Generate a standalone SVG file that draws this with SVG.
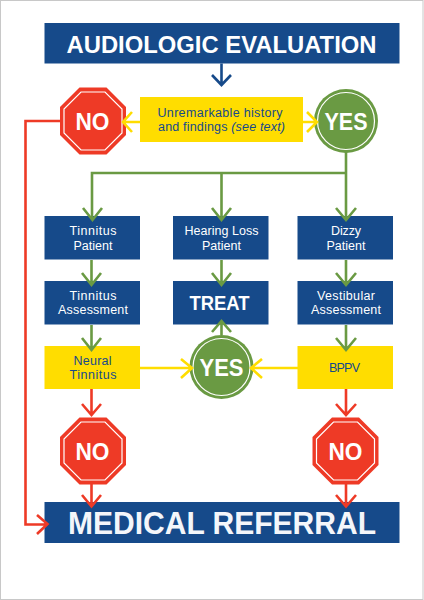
<svg xmlns="http://www.w3.org/2000/svg" width="424" height="600" viewBox="0 0 424 600">
<style>
.blue{fill:#164a8a}
.yel{fill:#ffdd00}
.head{font:bold 24.500px "Liberation Sans",Arial,sans-serif;fill:#fff;text-anchor:middle}
.big{font:bold 32px "Liberation Sans",Arial,sans-serif;fill:#f4f6fa;text-anchor:middle}
.sign{font:bold 23px "Liberation Sans",Arial,sans-serif;fill:#fff;text-anchor:middle}
.w{font:12.500px "Liberation Sans",Arial,sans-serif;fill:#fff;text-anchor:middle}
.d{font:12.500px "Liberation Sans",Arial,sans-serif;fill:#164a8a;text-anchor:middle}
.l{fill:none;stroke-width:2.600}
.g{stroke:#6a9a43}.r{stroke:#ee3a26}.y{stroke:#ffdd00}.b{stroke:#164a8a}
.oct{fill:#ee3a26;stroke:#fff;stroke-width:1.200}
.octo{fill:#ee3a26}
.cir{fill:#6a9a43}
</style>
<defs>
<g id="stop"><polygon class="octo" points="-13.500,-33.500 13.500,-33.500 33,-14 33,14 13.500,33.500 -13.500,33.500 -33,14 -33,-14"/><polygon class="oct" points="-12,-29 12,-29 29,-12 29,12 12,29 -12,29 -29,12 -29,-12"/></g>
<g id="go"><circle class="cir" r="32"/><circle r="28.500" fill="none" stroke="#fff" stroke-width="1.200"/></g>
</defs>
<rect x="0.500" y="0.500" width="422.500" height="599" fill="#fff" stroke="#c8c8c8" stroke-width="1"/>
<g id="n-eval"><rect class="blue" x="44.500" y="23" width="355" height="40.500"/><text class="head" x="221.500" y="52.500" textLength="310" lengthAdjust="spacingAndGlyphs">AUDIOLOGIC EVALUATION</text></g>
<g id="n-no1"><use href="#stop" x="93" y="121"/><text class="sign" x="92.500" y="129.500" textLength="34" lengthAdjust="spacingAndGlyphs">NO</text></g>
<g id="n-unrem"><rect class="yel" x="140" y="97" width="163" height="45"/>
<text class="d" x="220" y="117" textLength="125">Unremarkable history</text>
<text class="d" x="221.500" y="131" textLength="127">and findings <tspan font-style="italic">(see text)</tspan></text></g>
<g id="n-yes1"><use href="#go" x="346" y="121"/><text class="sign" x="346" y="129.500" textLength="43" lengthAdjust="spacingAndGlyphs">YES</text></g>
<g id="n-tp"><rect class="blue" x="44.500" y="216" width="95.500" height="43.500"/><text class="w" x="93" y="235" textLength="47">Tinnitus</text><text class="w" x="93" y="250" textLength="39">Patient</text></g>
<g id="n-hl"><rect class="blue" x="173" y="216" width="95.500" height="43.500"/><text class="w" x="221.500" y="235" textLength="74">Hearing Loss</text><text class="w" x="221.500" y="250" textLength="39">Patient</text></g>
<g id="n-dp"><rect class="blue" x="297.500" y="216" width="95.500" height="43.500"/><text class="w" x="346" y="235" textLength="30">Dizzy</text><text class="w" x="346" y="250" textLength="39">Patient</text></g>
<g id="n-ta"><rect class="blue" x="44.500" y="281" width="95.500" height="43.500"/><text class="w" x="93" y="300" textLength="47">Tinnitus</text><text class="w" x="93" y="314" textLength="70">Assessment</text></g>
<g id="n-treat"><rect class="blue" x="173" y="281" width="95.500" height="43.500"/><text class="sign" x="219.500" y="309.500" style="font-size:20px" textLength="60" lengthAdjust="spacingAndGlyphs">TREAT</text></g>
<g id="n-va"><rect class="blue" x="297.500" y="281" width="95.500" height="43.500"/><text class="w" x="346" y="300" textLength="58">Vestibular</text><text class="w" x="346" y="314" textLength="70">Assessment</text></g>
<g id="n-nt"><rect class="yel" x="44.500" y="346" width="95.500" height="43"/><text class="d" x="92.500" y="365" textLength="38">Neural</text><text class="d" x="93" y="379" textLength="47">Tinnitus</text></g>
<g id="n-yes2"><circle cx="221.500" cy="367" r="34" fill="#fff"/><use href="#go" x="221.500" y="367"/><text class="sign" x="221.500" y="376" textLength="44" lengthAdjust="spacingAndGlyphs">YES</text></g>
<g id="n-bppv"><rect class="yel" x="297.500" y="346" width="95.500" height="43"/><text class="d" x="344.500" y="372" textLength="31">BPPV</text></g>
<g id="n-no2"><use href="#stop" x="93" y="451"/><text class="sign" x="92.500" y="459.500" textLength="34" lengthAdjust="spacingAndGlyphs">NO</text></g>
<g id="n-no3"><use href="#stop" x="345.500" y="451"/><text class="sign" x="345.500" y="459.500" textLength="34" lengthAdjust="spacingAndGlyphs">NO</text></g>
<g id="n-ref"><rect class="blue" x="44.500" y="502" width="355" height="41"/><text class="big" x="222" y="534" textLength="308" lengthAdjust="spacingAndGlyphs">MEDICAL REFERRAL</text></g>
<g id="connectors">
<path class="l b" d="M221.500 63.500V85M212 75L221.500 85L231 75"/>
<path class="l y" d="M140 122H124M132 112L123 122L132 132"/>
<path class="l y" d="M303 122H316M307 112L317 122L307 132"/>
<path class="l g" d="M346 152V173M92 219V173H346V219M221.500 173V219"/>
<path class="l g" d="M83 208L92.500 220L102 208M212 208L221.500 220L231 208M336 208L346 220L356 208"/>
<path class="l g" d="M91.500 260V284M82 273L91.500 285L101 273"/>
<path class="l g" d="M221.500 260V284M212 273L221.500 285L231 273"/>
<path class="l g" d="M346 260V284M336 273L346 285L356 273"/>
<path class="l g" d="M91.500 325V349M82 338L91.500 350L101 338"/>
<path class="l g" d="M346 325V349M336 338L346 350L356 338"/>
<path class="l g" d="M221.500 335V322M212 332L221.500 321L231 332"/>
<path class="l y" d="M140 368H192M181 359L192 368L181 378"/>
<path class="l y" d="M298 368H251M262 359L251 368L262 378"/>
<path class="l r" d="M91.500 389V414M82 404L91.500 415L101 404"/>
<path class="l r" d="M346 389V414M336 404L346 415L356 404"/>
<path class="l r" d="M91.500 484V506M82 495L91.500 506.500L101 495"/>
<path class="l r" d="M346 484V506M336 495L346 506.500L356 495"/>
<path class="l r" d="M60 121H25.500V524.500H47M37 515L47.500 524L37 534"/>
</g>
</svg>
